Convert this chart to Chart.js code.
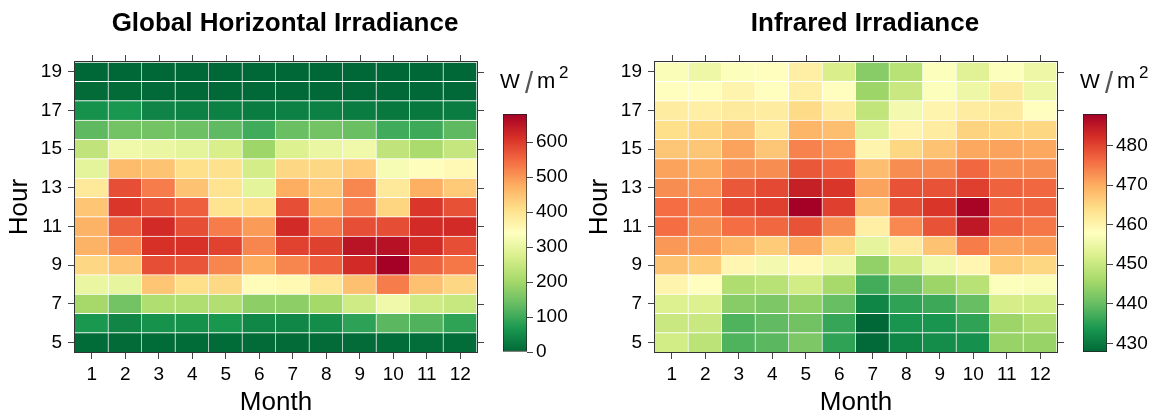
<!DOCTYPE html>
<html>
<head>
<meta charset="utf-8">
<title>Irradiance by month and hour</title>
<script src="https://cdn.jsdelivr.net/npm/chart.js@4.4.1/dist/chart.umd.min.js"></script>
<style>
  html, body { margin: 0; padding: 0; background: #ffffff; }
  #wrap { position: relative; width: 1157px; height: 419px; overflow: hidden; background: #ffffff; }
  canvas { position: absolute; top: 0; }
</style>
</head>
<body>
<div id="wrap">
  <canvas id="ghiMap" width="490" height="419" style="left:0px"></canvas>
  <canvas id="ghiKey" width="87" height="419" style="left:490px"></canvas>
  <canvas id="irMap" width="490" height="419" style="left:580px"></canvas>
  <canvas id="irKey" width="87" height="419" style="left:1070px"></canvas>
</div>
<script>
// ---- data -------------------------------------------------------------
const monthLabels = ['1', '2', '3', '4', '5', '6', '7', '8', '9', '10', '11', '12'];
const hours = [5, 6, 7, 8, 9, 10, 11, 12, 13, 14, 15, 16, 17, 18, 19];
const hourTicks = [5, 7, 9, 11, 13, 15, 17, 19];

const ghiTitle = 'Global Horizontal Irradiance';
const irTitle = 'Infrared Irradiance';
const xTitle = 'Month';
const yTitle = 'Hour';

const ghiKeyTicks = [0, 100, 200, 300, 400, 500, 600];
const irKeyTicks = [430, 440, 450, 460, 470, 480];

// Mean global horizontal irradiance (W/m2), one row per hour (5 .. 19), months 1 .. 12
const ghiByHour = [
  [6, 4, 6, 5, 5, 4, 4, 4, 4, 7, 8, 7],
  [68, 41, 60, 58, 66, 44, 44, 51, 85, 126, 116, 86],
  [204, 150, 218, 218, 220, 177, 177, 203, 259, 313, 259, 248],
  [302, 298, 445, 408, 418, 347, 354, 395, 452, 527, 450, 420],
  [420, 445, 578, 571, 519, 476, 519, 558, 619, 680, 556, 534],
  [469, 517, 612, 610, 592, 519, 592, 593, 653, 656, 618, 578],
  [469, 557, 619, 578, 527, 496, 619, 534, 578, 580, 619, 619],
  [445, 605, 578, 558, 401, 410, 578, 476, 527, 422, 605, 575],
  [388, 578, 527, 449, 401, 292, 476, 445, 517, 388, 475, 438],
  [292, 459, 449, 408, 405, 265, 420, 420, 435, 326, 345, 353],
  [238, 313, 302, 292, 272, 197, 279, 302, 313, 238, 211, 245],
  [129, 150, 150, 143, 130, 102, 140, 150, 140, 102, 99, 129],
  [60, 65, 40, 35, 35, 28, 35, 35, 28, 22, 22, 28],
  [4, 4, 3, 2, 2, 2, 2, 2, 2, 2, 2, 2],
  [0, 0, 0, 0, 0, 0, 0, 0, 0, 0, 0, 0]
];

// Mean infrared irradiance (W/m2), one row per hour (5 .. 19), months 1 .. 12
const irByHour = [
  [451, 448.5, 438, 439, 442, 435.5, 428, 431.5, 432.5, 433, 444.5, 444.5],
  [450, 450, 438, 439.5, 441, 436, 427.8, 433.5, 433.5, 435.5, 445, 447],
  [452.5, 452.5, 443, 442, 444, 440, 431.5, 435.5, 436.5, 440, 451.5, 451],
  [460, 458, 447, 448, 451, 446, 437, 441, 445, 448, 457.5, 457],
  [467.5, 466.5, 459.5, 456, 459, 455, 444, 450.5, 455.5, 459.5, 466.5, 465],
  [472, 471.5, 469, 466.5, 470.5, 465, 454, 462, 467.5, 474.5, 471, 471.5],
  [476, 473, 476, 476.5, 478.5, 473, 461, 473.5, 478.5, 485, 476.5, 475],
  [476, 474.5, 479.5, 480.5, 488, 480.5, 468, 479, 481.5, 487.5, 477, 477],
  [473, 472.5, 478, 479.5, 484, 481.5, 471, 478.5, 478.5, 480.5, 477, 476.5],
  [471, 470, 473, 473, 478, 476.5, 468, 473, 473, 476.5, 473, 473],
  [467, 467, 471, 467, 474, 472.5, 460, 465, 467.5, 470.5, 471, 470.5],
  [464, 465, 467, 462.5, 469, 468, 453, 460, 461.5, 465.5, 465, 465],
  [461.5, 461, 462, 461.5, 464.5, 461.5, 449, 456, 460, 461.5, 462, 458],
  [458, 458, 460, 458, 461, 458, 445, 450, 457.5, 455, 462, 455],
  [457, 455, 457.5, 458, 461, 452, 443, 448, 457.5, 453, 457.5, 455]
];

// ---- colour ramp (ColorBrewer RdYlGn, reversed: green = low, red = high) ----
const ramp = ['#006837', '#1a9850', '#66bd63', '#a6d96a', '#d9ef8b', '#ffffbf',
              '#fee08b', '#fdae61', '#f46d43', '#d73027', '#a50026'];

const FONT = '"Liberation Sans", Arial, Helvetica, sans-serif';
Chart.defaults.font.family = FONT;
Chart.defaults.color = '#000000';

function hexToRgb(h) {
  return [parseInt(h.slice(1, 3), 16), parseInt(h.slice(3, 5), 16), parseInt(h.slice(5, 7), 16)];
}
const rampRgb = ramp.map(hexToRgb);

function rampColor(t) {
  t = Math.max(0, Math.min(1, t));
  const pos = t * (rampRgb.length - 1);
  const i = Math.min(Math.floor(pos), rampRgb.length - 2);
  const f = pos - i;
  const a = rampRgb[i], b = rampRgb[i + 1];
  const c = a.map((v, k) => Math.round(v + (b[k] - v) * f));
  return `rgb(${c[0]},${c[1]},${c[2]})`;
}

function extent(rows) {
  const all = rows.flat();
  return [Math.min(...all), Math.max(...all)];
}

// ---- plugins ------------------------------------------------------------
// Frame round the panel, ticks on the top and right edges, and the panel title.
const panelFrame = {
  id: 'panelFrame',
  afterDraw(chart, args, opts) {
    const { ctx, chartArea: a, scales: { x, y } } = chart;
    ctx.save();
    ctx.strokeStyle = '#444444';
    ctx.lineWidth = 1;
    ctx.beginPath();
    x.ticks.forEach((t, i) => {
      const px = Math.round(x.getPixelForTick(i)) + 0.5;
      ctx.moveTo(px, a.top);
      ctx.lineTo(px, a.top - 7);
    });
    y.ticks.forEach(t => {
      const py = Math.round(y.getPixelForValue(t.value)) + 0.5;
      ctx.moveTo(a.right, py);
      ctx.lineTo(a.right + 7, py);
    });
    ctx.stroke();
    ctx.strokeStyle = '#333333';
    ctx.strokeRect(Math.round(a.left) - 0.5, Math.round(a.top) - 0.5,
                   Math.round(a.width) + 1, Math.round(a.height) + 1);
    ctx.fillStyle = '#000000';
    ctx.font = 'bold 26px ' + FONT;
    ctx.textAlign = 'center';
    ctx.textBaseline = 'alphabetic';
    ctx.fillText(opts.text, 285, 31);
    ctx.restore();
  }
};

// Unit label above the colour key: W / m^2
const keyUnits = {
  id: 'keyUnits',
  afterDraw(chart) {
    const ctx = chart.ctx;
    ctx.save();
    ctx.textAlign = 'left';
    ctx.textBaseline = 'alphabetic';
    ctx.fillStyle = '#000000';
    ctx.font = '21px ' + FONT;
    ctx.fillText('W', 10, 88);
    ctx.fillStyle = '#555555';
    ctx.font = '29px ' + FONT;
    ctx.fillText('/', 35, 93);
    ctx.fillStyle = '#000000';
    ctx.font = '22px ' + FONT;
    ctx.fillText('m', 47, 88);
    ctx.font = '17px ' + FONT;
    ctx.fillText('2', 69, 78);
    ctx.restore();
  }
};

// ---- builders -----------------------------------------------------------
function buildHeatmap(canvasId, rows, title) {
  const [lo, hi] = extent(rows);
  const datasets = hours.map((h, i) => ({
    label: String(h),
    data: rows[i].map(() => [h - 0.5, h + 0.5]),
    backgroundColor: rows[i].map(v => rampColor((v - lo) / (hi - lo))),
    borderColor: '#ffffff',
    borderWidth: { top: 1, right: 1, bottom: 0, left: 0 },
    borderSkipped: false,
    barPercentage: 1,
    categoryPercentage: 1,
    grouped: false
  }));
  const tickGrid = {
    display: true,
    drawOnChartArea: false,
    drawTicks: true,
    tickLength: 7,
    offset: false,
    color: '#444444'
  };
  return new Chart(document.getElementById(canvasId), {
    type: 'bar',
    data: { labels: monthLabels, datasets },
    options: {
      responsive: false,
      animation: false,
      layout: { padding: { top: 62, right: 13, bottom: 0, left: 0 } },
      plugins: {
        legend: { display: false },
        tooltip: { enabled: false },
        panelFrame: { text: title }
      },
      scales: {
        x: {
          type: 'category',
          offset: true,
          grid: tickGrid,
          border: { display: false },
          ticks: { font: { size: 19 }, color: '#000000', padding: 4, maxRotation: 0, autoSkip: false },
          title: { display: true, text: xTitle, font: { size: 26 }, color: '#000000', padding: { top: 0, bottom: 1 } },
          afterFit: s => { s.height = 67; }
        },
        y: {
          type: 'linear',
          min: 4.5,
          max: 19.5,
          grid: tickGrid,
          border: { display: false },
          afterBuildTicks: s => { s.ticks = hourTicks.map(v => ({ value: v })); },
          ticks: { font: { size: 19 }, color: '#000000', padding: 6 },
          title: { display: true, text: yTitle, font: { size: 26 }, color: '#000000', padding: { top: 4, bottom: 0 } },
          afterFit: s => { s.width = 75; }
        }
      }
    },
    plugins: [panelFrame]
  });
}

function buildKey(canvasId, rows, keyTicks) {
  const [lo, hi] = extent(rows);
  const shade = (c) => {
    const chart = c.chart;
    if (!chart.chartArea) return ramp[5];
    const y = chart.scales.y;
    const g = chart.ctx.createLinearGradient(0, y.getPixelForValue(lo), 0, y.getPixelForValue(hi));
    ramp.forEach((col, i) => g.addColorStop(i / (ramp.length - 1), col));
    return g;
  };
  return new Chart(document.getElementById(canvasId), {
    type: 'bar',
    data: {
      labels: ['key'],
      datasets: [{
        data: [[lo, hi]],
        backgroundColor: shade,
        borderColor: '#222222',
        borderWidth: 1,
        borderSkipped: false,
        barPercentage: 1,
        categoryPercentage: 1
      }]
    },
    options: {
      responsive: false,
      animation: false,
      layout: { padding: { top: 114, right: 0, bottom: 67, left: 13 } },
      plugins: { legend: { display: false }, tooltip: { enabled: false } },
      scales: {
        x: { type: 'category', display: false, offset: true },
        y: {
          type: 'linear',
          position: 'right',
          min: lo,
          max: hi,
          grid: { display: true, drawOnChartArea: false, drawTicks: true, tickLength: 6, color: '#444444' },
          border: { display: false },
          afterBuildTicks: s => { s.ticks = keyTicks.map(v => ({ value: v })); },
          ticks: { font: { size: 19 }, color: '#000000', padding: 3 },
          afterFit: s => { s.width = 50; }
        }
      }
    },
    plugins: [keyUnits]
  });
}

buildHeatmap('ghiMap', ghiByHour, ghiTitle);
buildKey('ghiKey', ghiByHour, ghiKeyTicks);
buildHeatmap('irMap', irByHour, irTitle);
buildKey('irKey', irByHour, irKeyTicks);
</script>
</body>
</html>
